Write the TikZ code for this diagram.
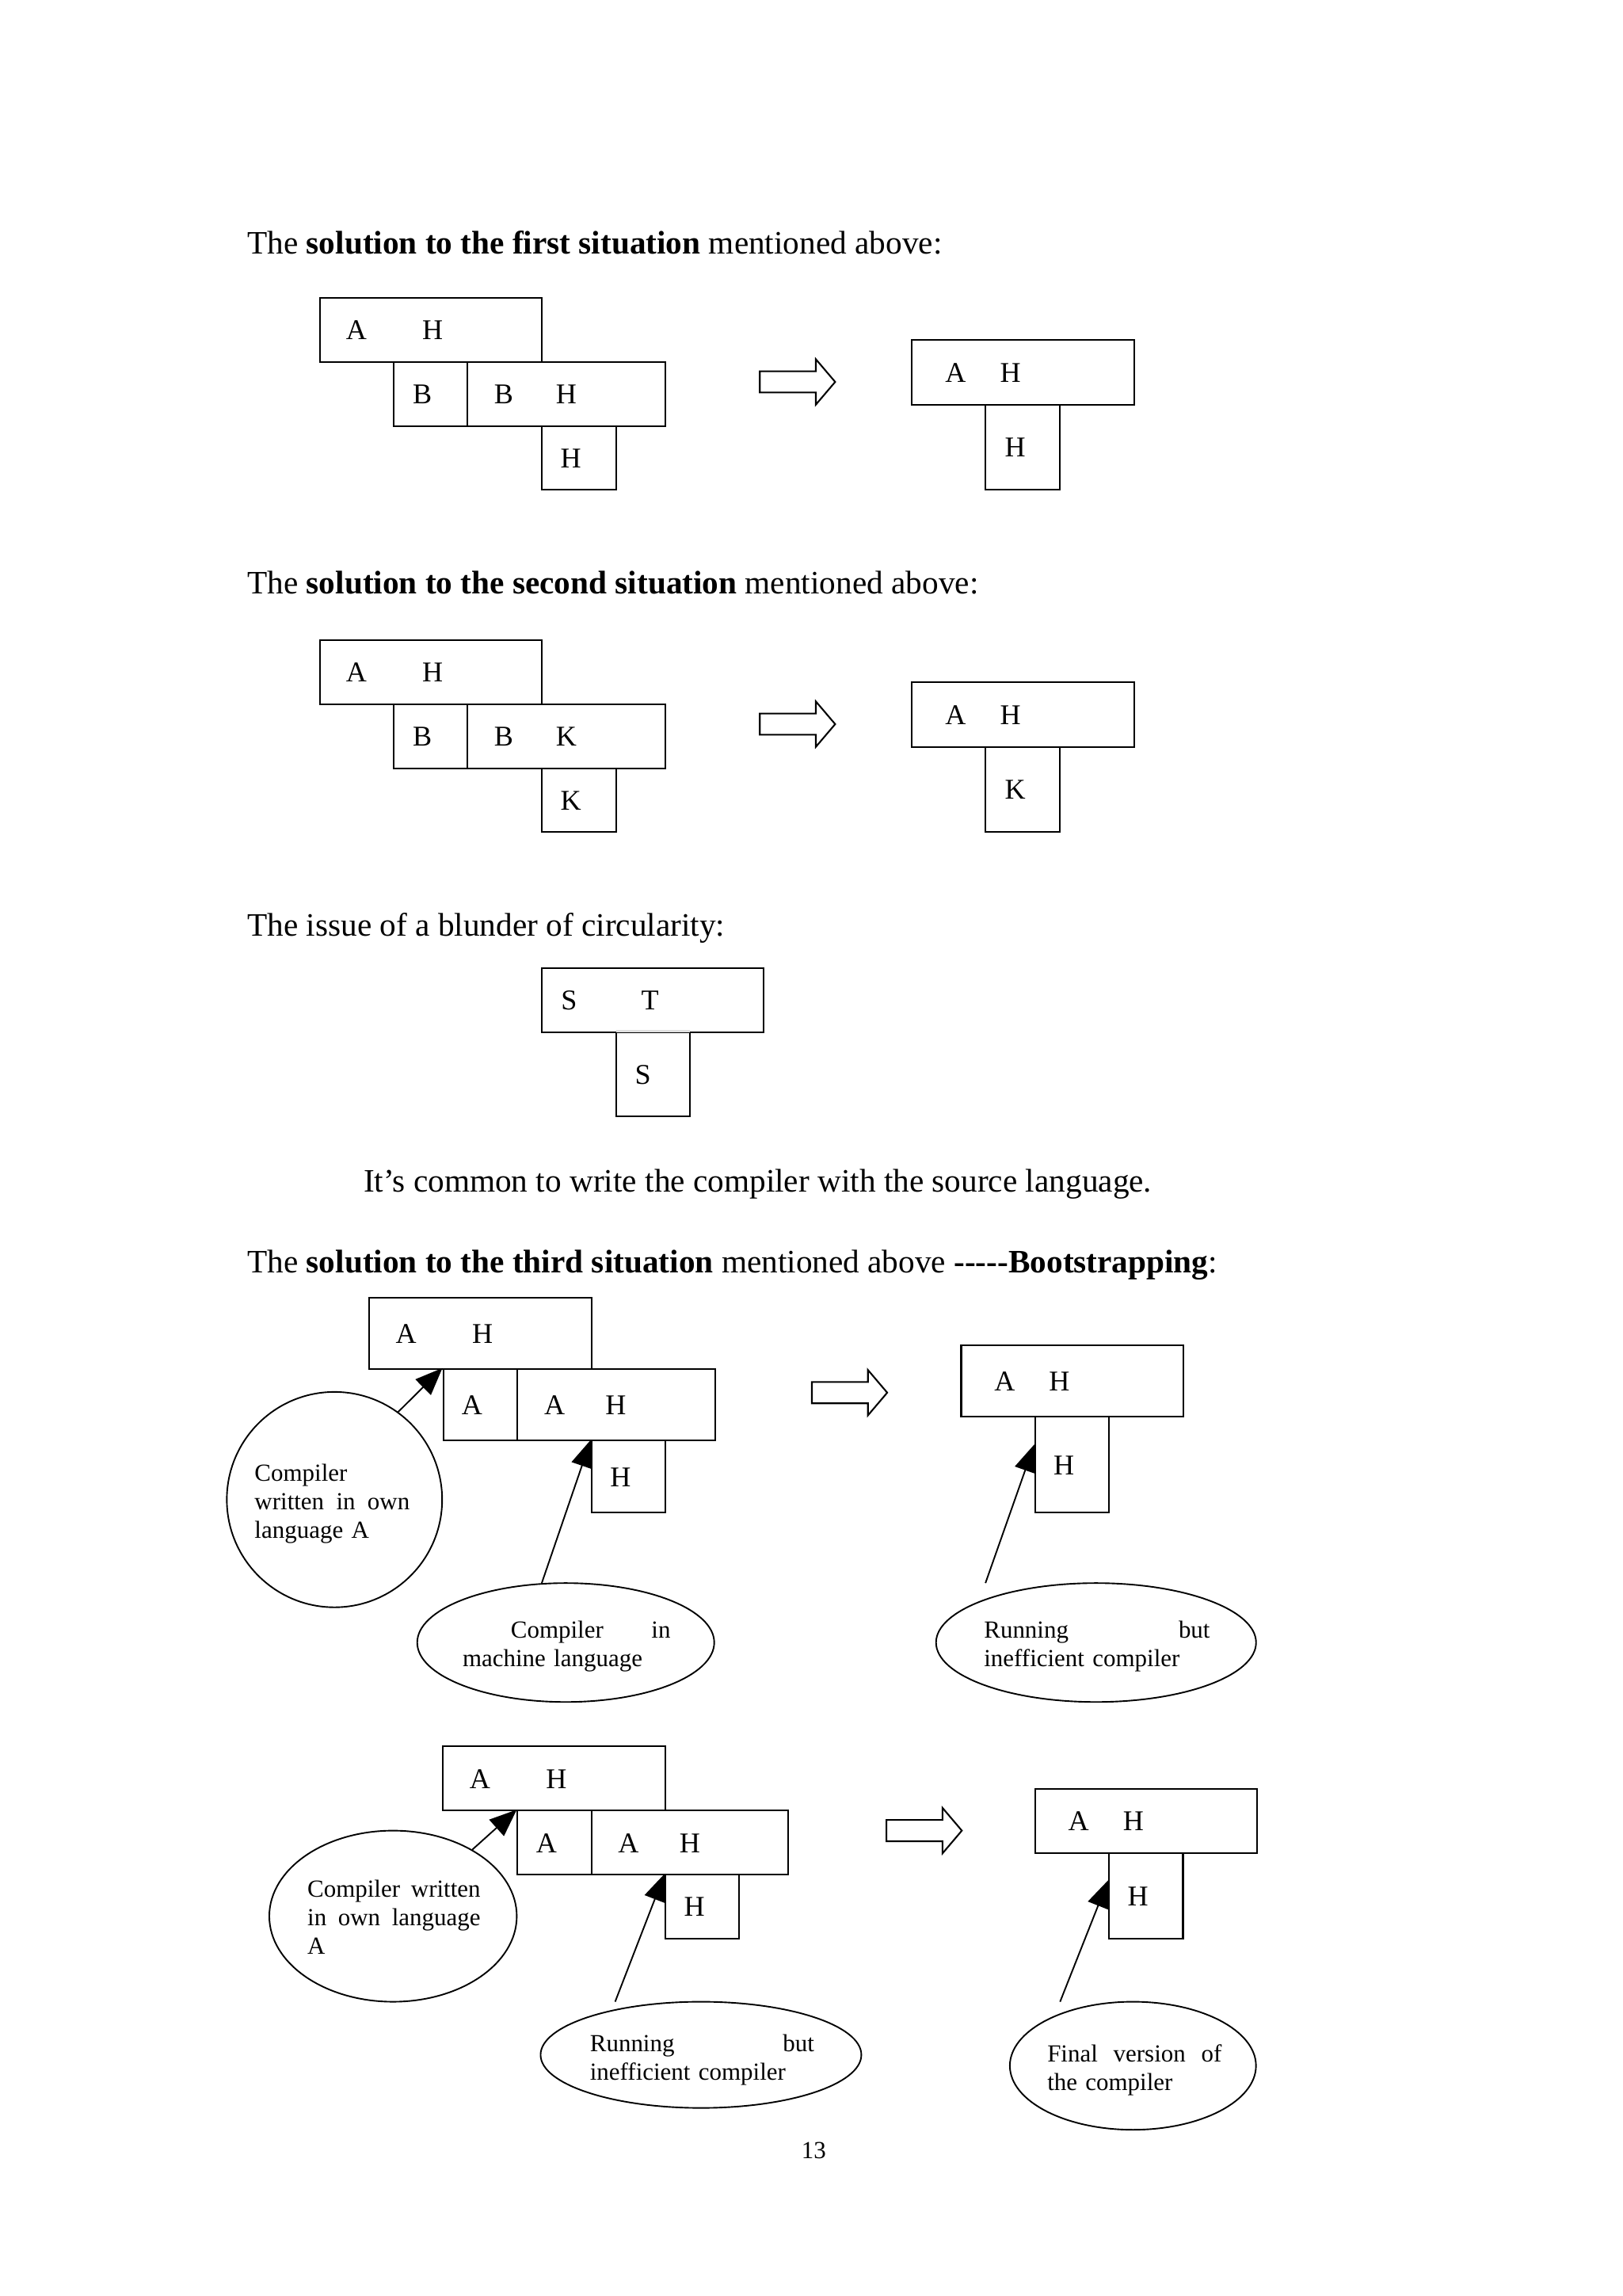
\documentclass[tikz,border=0pt]{standalone}
\usepackage{fontspec}
\setmainfont{Liberation Serif}
\usetikzlibrary{arrows.meta,shapes.geometric}
\newcommand\pxu{0.5412pt}

\tikzset{
  box/.style 2 args={draw, line width=0.6pt, anchor=north west, inner sep=0pt,
    minimum width=#1*\pxu, minimum height=#2*\pxu},
  lbl/.style={inner sep=0pt, font=\fontsize{10.5}{12}\selectfont},
  head/.style={anchor=base west, inner sep=0pt, font=\fontsize{12}{14}\selectfont},
  bubble/.style={draw, ellipse, line width=0.55pt, inner sep=0pt},
  note/.style={anchor=north west, inner sep=0pt, align=left,
    font=\fontsize{9}{10.45}\selectfont},
  ptr/.style={line width=0.55pt, -{Triangle[length=10pt,width=8pt]}},
  fat arrow/.pic={\draw[line width=0.6pt] (0,-7.2) -- (38,-7.2) -- (38,-15.4)
    -- (51.1,0) -- (38,15.4) -- (38,7.2) -- (0,7.2) -- cycle;}
}

\begin{document}
\begin{tikzpicture}[x=0.5412pt, y=-0.5412pt]
  \useasboundingbox (0,0) rectangle (1100,1556.5);

  \node[head] (h1) at (167.4,172.3) {The \textbf{solution to the first situation} mentioned above:};
  \node[head] (h2) at (167.4,402.8) {The \textbf{solution to the second situation} mentioned above:};

  % first and second situation
  \foreach \dy/\k/\n in {0/H/1, 232/K/2} {
    \node[box={150.8}{43.4}] (top\n) at (216.2,{201.4+\dy}) {};
    \node[box={50}{43.4}] (b\n) at (266.3,{244.8+\dy}) {};
    \node[box={134.3}{43.4}] (bk\n) at (316.3,{244.8+\dy}) {};
    \node[box={50.5}{43.4}] (k\n) at (366.6,{288.2+\dy}) {};
    \node[lbl] at (241.7,{223.8+\dy}) {A};
    \node[lbl] at (293.4,{223.8+\dy}) {H};
    \node[lbl] at (286.4,{267.2+\dy}) {B};
    \node[lbl] at (341.5,{267.2+\dy}) {B};
    \node[lbl] at (384,{267.2+\dy}) {\k};
    \node[lbl] at (387.1,{311+\dy}) {\k};
    \pic at (515.2,{258.9+\dy}) {fat arrow};
    \node[box={150.9}{43.9}] (rt\n) at (617.6,{230+\dy}) {};
    \node[box={50.1}{57.7}] (rs\n) at (667.8,{273.9+\dy}) {};
    \node[lbl] at (648,{252.9+\dy}) {A};
    \node[lbl] at (685.2,{252.9+\dy}) {H};
    \node[lbl] at (688.4,{303.4+\dy}) {\k};
  }

  % circularity
  \node[head] (h3) at (167.4,634.6) {The issue of a blunder of circularity:};
  \node[box={150.8}{43.4}] (st) at (366.6,655.7) {};
  \node[box={50.1}{57.3}] (ss) at (417.1,699.1) {};
  \draw[gray!25, line width=0.8pt] ([xshift=0.4pt]ss.north west) -- ([xshift=-0.4pt]ss.north east);
  \node[lbl] at (385.8,678) {S};
  \node[lbl] at (440.8,678) {T};
  \node[lbl] at (435.9,728.6) {S};
  \node[head] (common) at (246.2,807.8) {It’s common to write the compiler with the source language.};

  % bootstrapping, first step
  \node[head] (h4) at (167.4,863) {The \textbf{solution to the third situation} mentioned above \textbf{\mbox{-}\mbox{-}\mbox{-}\mbox{-}\mbox{-}Bootstrapping}:};
  \node[box={150.9}{48.4}] (top3) at (249.7,879) {};
  \node[box={50.4}{48.7}] (a3) at (300,927.4) {};
  \node[box={134}{48.7}] (ah3) at (350.4,927.4) {};
  \node[box={50.1}{48.8}] (h3) at (400.6,976.1) {};
  \node[lbl] at (275.3,904.1) {A};
  \node[lbl] at (327.2,904.1) {H};
  \node[lbl] at (320,952.4) {A};
  \node[lbl] at (376,952.4) {A};
  \node[lbl] at (417.6,952.4) {H};
  \node[lbl] at (420.7,1001.6) {H};
  \pic at (550.5,944.1) {fat arrow};
  \node[box={150.8}{48.8}] (rt3) at (651.2,911.2) {};
  \node[box={50.1}{64.9}] (rs3) at (701.3,960) {};
  \node[lbl] at (681.2,936.3) {A};
  \node[lbl] at (718.3,936.3) {H};
  \node[lbl] at (721.4,993.6) {H};

  \node[draw, circle, line width=0.55pt, inner sep=0pt, minimum size=146*\pxu] (c1) at (226.8,1016.6) {};
  \node[note, text width=56.9pt] at (172.3,992.4) {Compiler\\ written\hfill in\hfill own\\ language A};
  \node[bubble, minimum width=201.4*\pxu, minimum height=80.6*\pxu] (e1) at (383.6,1113.5) {};
  \node[note, text width=76.3pt] at (313.3,1098.5) {\hspace*{17.7pt}Compiler\hfill in\\ machine language};
  \node[bubble, minimum width=217*\pxu, minimum height=80.6*\pxu] (e2) at (743.2,1113.5) {};
  \node[note, text width=82.9pt] at (666.9,1098.5) {Running\hfill but\\ inefficient compiler};
  \coordinate (t2) at (668.2,1073.2);

  \draw[ptr] (c1.54) -- (a3.north west);
  \draw[ptr] (e1.112) -- (h3.north west);
  \draw[ptr] (t2) -- ([yshift=-10.4pt]rs3.north west);

  % bootstrapping, second step
  \node[box={150.8}{43.5}] (top4) at (299.9,1183.3) {};
  \node[box={50.2}{43.4}] (a4) at (350.4,1226.8) {};
  \node[box={133.4}{43.4}] (ah4) at (400.6,1226.8) {};
  \node[box={50.1}{43.4}] (h4) at (450.7,1270.2) {};
  \node[lbl] at (325.4,1206.2) {A};
  \node[lbl] at (377.3,1206.2) {H};
  \node[lbl] at (370.6,1249.6) {A};
  \node[lbl] at (426.1,1249.6) {A};
  \node[lbl] at (467.7,1249.6) {H};
  \node[lbl] at (470.8,1292.5) {H};
  \pic at (601.1,1241) {fat arrow};
  \node[box={150.4}{43.4}] (rt4) at (701.3,1212.4) {};
  \node[box={50.2}{57.8}] (rs4) at (751.4,1255.8) {};
  \node[lbl] at (731.3,1234.4) {A};
  \node[lbl] at (768.5,1234.4) {H};
  \node[lbl] at (771.6,1285.4) {H};

  \node[bubble, minimum width=167.8*\pxu, minimum height=116*\pxu] (e3) at (266.5,1299) {};
  \node[note, text width=63.5pt] at (208.1,1274) {Compiler\hfill written\\ in\hfill own\hfill language\\ A};
  \node[bubble, minimum width=217.5*\pxu, minimum height=72*\pxu] (e4) at (475.3,1393) {};
  \node[note, text width=82.3pt] at (399.7,1378.7) {Running\hfill but\\ inefficient compiler};
  \node[bubble, minimum width=166.9*\pxu, minimum height=86.8*\pxu] (e5) at (768.2,1400.4) {};
  \node[note, text width=64pt] at (709.8,1385.9) {Final\hfill version\hfill of\\ the compiler};
  \coordinate (t4) at (417.1,1357);
  \coordinate (t5) at (718.8,1357);

  \draw[ptr] (e3.40) -- (a4.north west);
  \draw[ptr] (t4) -- (h4.north west);
  \draw[ptr] (t5) -- ([yshift=-10.2pt]rs4.north west);

  \node[anchor=base, inner sep=0pt, font=\fontsize{9}{11}\selectfont] (page) at (551.8,1463.5) {13};
\end{tikzpicture}
\end{document}
